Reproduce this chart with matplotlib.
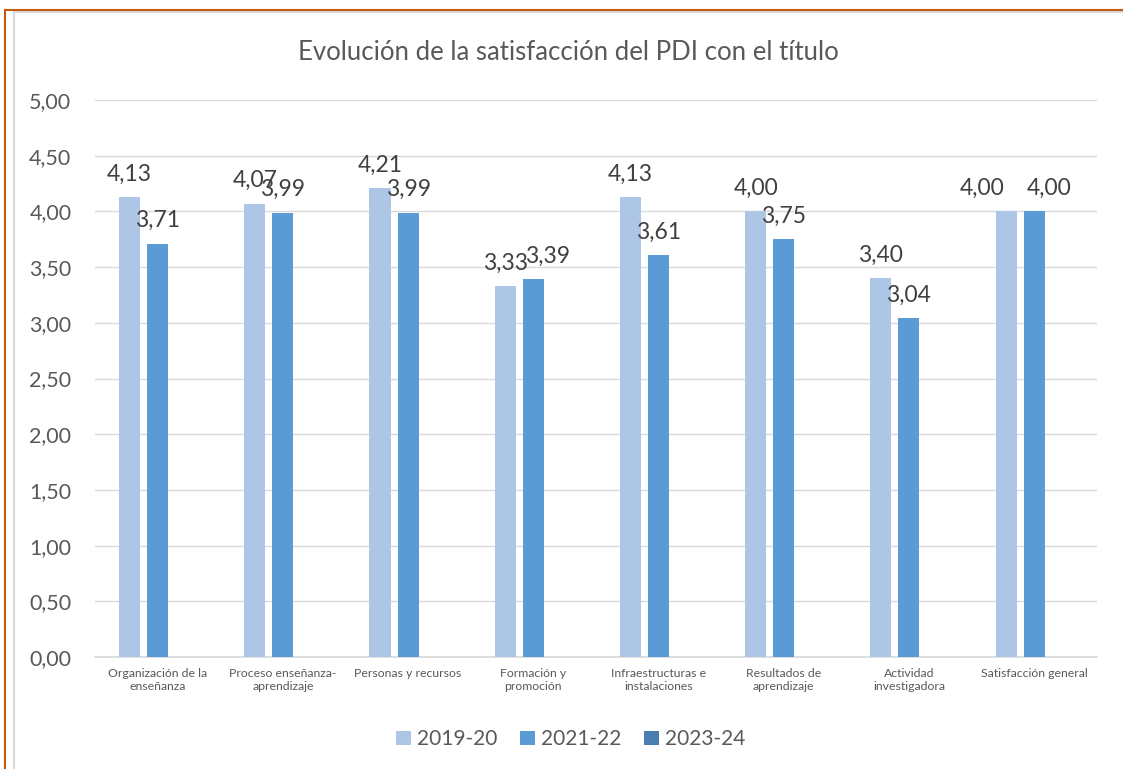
import matplotlib.pyplot as plt
import numpy as np
from matplotlib.lines import Line2D

plt.rcParams["font.family"] = ["Lato", "DejaVu Sans"]

categories = [
    "Organización de la\nenseñanza",
    "Proceso enseñanza-\naprendizaje",
    "Personas y recursos",
    "Formación y\npromoción",
    "Infraestructuras e\ninstalaciones",
    "Resultados de\naprendizaje",
    "Actividad\ninvestigadora",
    "Satisfacción general",
]
series_names = ["2019-20", "2021-22", "2023-24"]
v_2019 = [4.13, 4.07, 4.21, 3.33, 4.13, 4.00, 3.40, 4.00]
v_2021 = [3.71, 3.99, 3.99, 3.39, 3.61, 3.75, 3.04, 4.00]
v_2023 = [None] * 8
colors = ["#aec6e6", "#5b9bd5", "#4a7eb0"]
yticks = [0, 0.5, 1, 1.5, 2, 2.5, 3, 3.5, 4, 4.5, 5]

# label nudges (points) where Excel pushed overlapping labels apart
nudge = {(0, 7): -17, (1, 3): 10, (1, 7): 11}


def fmt(v):
    return f"{v:.2f}".replace(".", ",")


def main():
    fig = plt.figure(figsize=(11.23, 7.69), dpi=100)
    ax = fig.add_axes([0.0846, 0.1456, 0.892, 0.7243])

    x = np.arange(len(categories))
    width = 0.168
    step = 0.224
    all_series = [v_2019, v_2021, v_2023]
    for i, (name, vals, col) in enumerate(zip(series_names, all_series, colors)):
        pos = x + (i - 1) * step
        heights = [v if v is not None else 0 for v in vals]
        ax.bar(pos, heights, width, color=col, label=name, zorder=3)
        for j, (p, v) in enumerate(zip(pos, vals)):
            if v is None:
                continue
            ax.annotate(fmt(v), (p, v), xytext=(nudge.get((i, j), 0), 9),
                        textcoords="offset points", ha="center", va="bottom",
                        fontsize=16.5, color="#404040")

    ax.set_xlim(-0.5, len(categories) - 0.5)
    ax.set_ylim(0, 5)
    ax.set_yticks(yticks)
    ax.set_yticklabels([fmt(t) for t in yticks], fontsize=15.5, color="#595959")
    ax.set_xticks(x)
    ax.set_xticklabels(categories, fontsize=8.8, color="#595959")
    ax.tick_params(length=0)
    ax.tick_params(axis="y", pad=17)
    ax.tick_params(axis="x", pad=8)
    ax.grid(axis="y", color="#d9d9d9", lw=1, zorder=0)
    for s in ["left", "right", "top"]:
        ax.spines[s].set_visible(False)
    ax.spines["bottom"].set_color("#d9d9d9")
    ax.spines["bottom"].set_linewidth(1.2)

    fig.text(0.506, 0.932, "Evolución de la satisfacción del PDI con el título",
             ha="center", va="center", fontsize=18.5, color="#595959")

    ax.legend(loc="center", bbox_to_anchor=(0.475, -0.148), ncol=3, frameon=False,
              fontsize=15, labelcolor="#595959", handlelength=0.7, handleheight=0.7,
              handletextpad=0.3, columnspacing=1.1)

    # chart frame
    fig.add_artist(Line2D([0.0125, 0.0125], [0, 0.984], transform=fig.transFigure,
                          color="#d9d9d9", lw=1.5))
    fig.add_artist(Line2D([0.0125, 1], [0.984, 0.984], transform=fig.transFigure,
                          color="#d9d9d9", lw=1.5))
    fig.add_artist(Line2D([0.0045, 0.0045], [0, 0.9865], transform=fig.transFigure,
                          color="#c55a11", lw=1.5))
    fig.add_artist(Line2D([0.0045, 1], [0.9865, 0.9865], transform=fig.transFigure,
                          color="#c55a11", lw=1.5))

    fig.savefig("out.png", dpi=100)


main()
